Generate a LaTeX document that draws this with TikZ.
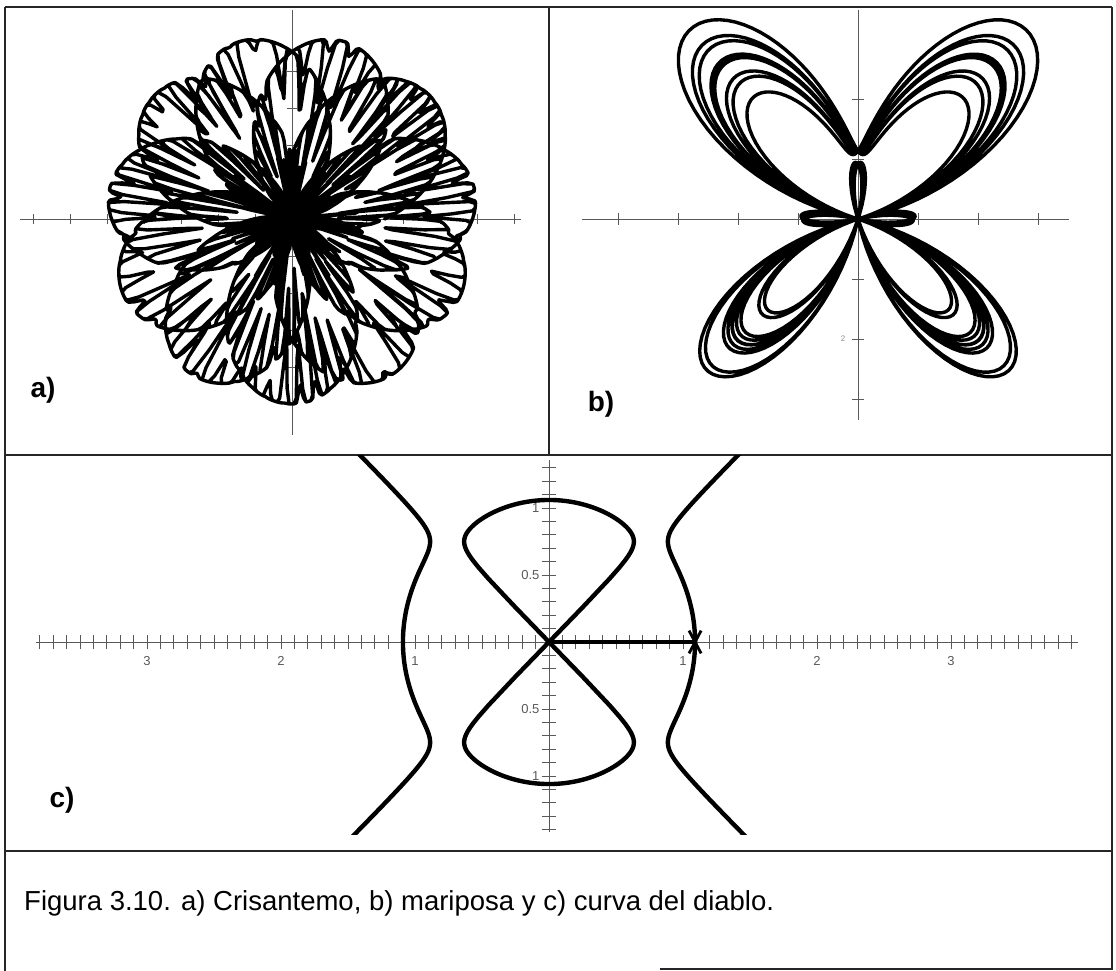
\documentclass[tikz,border=0pt]{standalone}
\usepackage{fontspec}
\setmainfont{Liberation Sans}
\begin{document}
\begin{tikzpicture}[x=1pt,y=-1pt,
  frame/.style={line width=1.6pt, draw=black!85},
  axisline/.style={line width=0.7pt, draw=black!65},
  tickline/.style={line width=0.7pt, draw=black!65},
  curve/.style={line width=3.4pt, line join=round, line cap=round},
  dcurve/.style={line width=4.4pt, line join=round, line cap=round},
  lbl/.style={font=\bfseries\fontsize{28}{30}\selectfont, inner sep=0pt},
  num/.style={font=\fontsize{13}{14}\selectfont, text=black!65, inner sep=0pt},
  declare function={
    fsq(\u)=\u*\u;
    ffour(\u)=\u*\u*\u*\u;
    ffive(\u)=\u*\u*\u*\u*\u;
    chr(\t)=5*(1+sin(deg(2.2*mod(\t,2.8559933))))
      -4*ffour(sin(deg(17/3*mod(\t,1.1087974))))
        *ffour(ffour(sqrt(abs(sin(deg(2*cos(deg(3*mod(\t,2.0943951)))-28*mod(\t,0.22439948)))))));
    bf(\t)=exp(1.405*max(cos(deg(\t)),0))
      +0.9*(cos(deg(\t))<0)*fsq(sin(deg(2*mod(\t,3.1415927))))
      -2.375*cos(deg(4*mod(\t,1.5707963)))
      -1.18*abs(sin(deg(2*mod(\t,3.1415927))))*ffive(sin(deg(\t/12)));
    dva=1.06; dvb=1.09;
    xo(\y)=sqrt((dvb*dvb+sqrt(dvb*dvb*dvb*dvb+4*\y*\y*\y*\y-4*dva*dva*\y*\y))/2);
    lp(\a)=sqrt(max(0,(dvb*dvb*cos(\a)*cos(\a)-dva*dva*sin(\a)*sin(\a))/cos(2*\a)));
  }]
\useasboundingbox (0,0) rectangle (1116,971);

% ---------- frame ----------
\draw[frame] (5,7) -- (1112,7);
\draw[frame] (5,7) -- (5,971);
\draw[frame] (1112,7) -- (1112,970);
\draw[frame] (660,969) -- (1112,969);
\draw[frame] (549,7) -- (549,455);
\draw[frame] (5,455) -- (1112,455);
\draw[frame] (5,851) -- (1112,851);

% ---------- panel a : crisantemo ----------
\draw[axisline] (20,219) -- (521,219);
\draw[axisline] (292,10) -- (292,435);
\foreach \k in {-7,...,-1,1,2,...,6}
  \draw[tickline] ({292+37*\k},214) -- ({292+37*\k},224);
\foreach \k in {-4,...,-1,1,2,...,4}
  \draw[tickline] (287,{219+37*\k}) -- (297,{219+37*\k});
\begin{scope}[shift={(292,219)}, x=18.5pt, y=18.5pt]
  \draw[curve] plot[domain=0:65.973445, samples=5000, variable=\t]
    ({deg(\t)}:{chr(\t)});
\end{scope}
\node[lbl] (la) at (43,390) {a)};

% ---------- panel b : mariposa ----------
\draw[axisline] (582,219) -- (1069,219);
\draw[axisline] (858,10) -- (858,420);
\foreach \k in {-4,...,-1,1,2,3}
  \draw[tickline] ({858+60*\k},213) -- ({858+60*\k},225);
\foreach \k in {-2,-1,1,2,3}
  \draw[tickline] (852,{219+60*\k}) -- (864,{219+60*\k});
\node[num, font=\fontsize{8}{9}\selectfont, text=black!45] (lb2) at (843,339) {2};
\begin{scope}[shift={(858,219)}, x=40pt, y=40pt]
  \draw[curve] plot[domain=0:75.398224, samples=3000, variable=\t]
    ({90-deg(\t)}:{bf(\t)});
\end{scope}
\node[lbl] (lb) at (601,404) {b)};

% ---------- panel c : curva del diablo ----------
\begin{scope}[shift={(549,642)}, x=134pt, y=134pt]
  \coordinate (O) at (0,0);
  \coordinate (P) at (1.09,0);
  \draw[axisline, line width=1pt] (-3.83,0) -- (3.95,0);
  \foreach \i in {-38,...,39}
    \draw[tickline, line width=1pt] (\i/10,-0.055) -- (\i/10,0.055);
  \draw[axisline, line width=1pt] (0,1.36) -- (0,-1.42);
  \foreach \i in {-14,...,13}
    \draw[tickline, line width=1pt] (-0.055,\i/10) -- (0.055,\i/10);
  \foreach \v in {1,2,3} {
    \node[num] (xp\v) at (\v,-0.14) {\v};
    \node[num] (xn\v) at (-\v,-0.14) {\v};
  }
  \node[num, anchor=east] (y1) at (-0.07,1) {1};
  \node[num, anchor=east] (y5) at (-0.07,0.5) {0.5};
  \node[num, anchor=east] (yn5) at (-0.07,-0.5) {0.5};
  \node[num, anchor=east] (yn1) at (-0.07,-1) {1};
  \begin{scope}
    \clip (-4,-1.433) rectangle (4,1.395);
    \draw[dcurve] plot[domain=-1.45:1.42, samples=220, variable=\y] ({xo(\y)},\y);
    \draw[dcurve] plot[domain=-1.45:1.42, samples=220, variable=\y] ({-xo(\y)},\y);
  \end{scope}
  \draw[dcurve] (O) -- plot[domain=45.9:134.1, samples=240, variable=\a] (\a:{lp(\a)}) -- (O);
  \draw[dcurve] (O) -- plot[domain=225.9:314.1, samples=240, variable=\a] (\a:{lp(\a)}) -- (O);
  \draw[line width=3.2pt] (O) -- (P);
  \draw[line width=2.8pt] ([shift={(-0.045,0.085)}]P) -- ([shift={(0.045,-0.085)}]P);
  \draw[line width=2.8pt] ([shift={(0.045,0.085)}]P) -- ([shift={(-0.045,-0.085)}]P);
\end{scope}
\node[lbl] (lc) at (62,800) {c)};

% ---------- caption ----------
\node[anchor=west, inner sep=0pt, font=\fontsize{27.5}{30}\selectfont] (cap) at (24,903)
  {Figura 3.10. a) Crisantemo, b) mariposa y c) curva del diablo.};
\end{tikzpicture}
\end{document}
